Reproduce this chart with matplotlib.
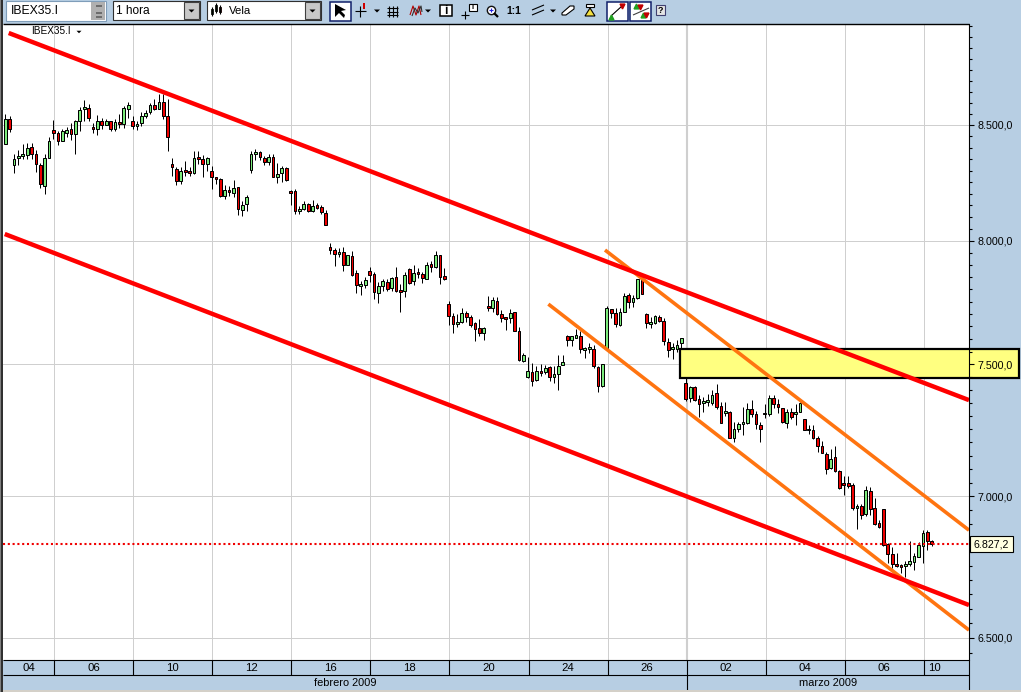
import numpy as np
import matplotlib
matplotlib.use('Agg')
import matplotlib.pyplot as plt
from matplotlib.patches import Rectangle, Polygon
from matplotlib.ticker import NullFormatter

plt.rcParams['font.family'] = ['Liberation Sans', 'DejaVu Sans']

# hourly candles
highs = [8548,8539,8370,8391,8417,8420,8420,8390,8333,8370,
         8449,8522,8473,8481,8493,8510,8522,8580,8612,8594,
         8507,8546,8529,8525,8516,8525,8551,8587,8601,8542,
         8517,8558,8568,8599,8616,8638,8638,8617,8355,8316,
         8316,8342,8316,8386,8386,8368,8360,8320,8273,8268,
         8236,8233,8259,8229,8168,8194,8386,8394,8386,8364,
         8373,8373,8333,8320,8316,8216,8220,8149,8168,8162,
         8172,8160,8153,8132,7991,7970,7970,7976,7942,7958,
         7881,7833,7849,7893,7873,7829,7841,7841,7849,7893,
         7821,7869,7889,7898,7889,7873,7914,7918,7960,7942,
         7889,7752,7703,7699,7723,7711,7695,7667,7679,7646,
         7772,7768,7768,7715,7687,7719,7707,7646,7545,7530,
         7507,7495,7503,7499,7495,7495,7537,7537,7614,7610,
         7638,7630,7569,7586,7578,7495,7503,7731,7719,7723,
         7723,7784,7784,7776,7841,7838,7703,7687,7695,7695,
         7683,7606,7583,7597,7606,7450,7415,7415,7381,7374,
         7385,7400,7423,7355,7355,7321,7279,7279,7336,7348,
         7362,7321,7279,7347,7381,7381,7366,7332,7328,7332,
         7347,7355,7290,7264,7264,7226,7207,7165,7177,7188,
         7097,7074,7074,7048,6971,6971,7037,7033,6992,6914,
         6953,6832,6818,6797,6758,6768,6839,6797,6836,6878,6878,6843]
lows = [8416,8471,8290,8323,8352,8352,8351,8293,8223,8199,
        8353,8438,8413,8427,8449,8435,8374,8475,8519,8516,
        8464,8455,8481,8499,8473,8473,8486,8486,8529,8481,
        8478,8494,8529,8551,8565,8570,8525,8384,8275,8236,
        8242,8275,8275,8284,8329,8271,8297,8219,8240,8188,
        8179,8192,8188,8110,8105,8127,8288,8345,8345,8325,
        8325,8273,8246,8251,8255,8153,8114,8114,8132,8123,
        8123,8136,8114,8066,7946,7896,7934,7876,7898,7855,
        7784,7776,7804,7829,7760,7744,7795,7792,7792,7788,
        7707,7768,7821,7817,7845,7825,7841,7869,7889,7821,
        7837,7655,7622,7646,7663,7667,7646,7594,7612,7598,
        7711,7707,7695,7667,7634,7663,7630,7513,7509,7446,
        7415,7434,7453,7461,7434,7427,7400,7499,7574,7574,
        7606,7545,7523,7545,7487,7393,7412,7565,7683,7646,
        7650,7707,7723,7727,7760,7780,7642,7642,7659,7667,
        7578,7528,7521,7550,7550,7359,7355,7359,7298,7317,
        7340,7343,7325,7275,7302,7215,7203,7241,7228,7271,
        7298,7252,7203,7294,7302,7332,7313,7275,7256,7290,
        7264,7317,7245,7230,7211,7165,7162,7082,7101,7089,
        7025,7003,7029,6949,6882,6917,6928,6931,6896,6885,
        6821,6761,6743,6747,6726,6711,6750,6736,6782,6761,6807,6821]
opens = [8416,8525,8323,8355,8364,8368,8403,8373,8325,8232,
         8353,8477,8464,8427,8465,8481,8458,8516,8573,8577,
         8490,8481,8520,8499,8516,8481,8512,8503,8573,8516,
         8494,8507,8542,8560,8590,8573,8603,8538,8329,8307,
         8255,8303,8299,8288,8360,8351,8329,8299,8273,8264,
         8192,8216,8201,8229,8132,8155,8303,8373,8381,8355,
         8338,8360,8273,8290,8312,8212,8212,8127,8136,8155,
         8127,8151,8142,8118,7974,7962,7946,7954,7900,7938,
         7865,7812,7817,7877,7861,7784,7812,7829,7804,7849,
         7796,7792,7885,7833,7869,7861,7841,7902,7892,7942,
         7853,7740,7691,7659,7667,7703,7687,7663,7642,7624,
         7731,7723,7752,7699,7687,7683,7707,7630,7513,7450,
         7469,7438,7472,7469,7491,7450,7461,7499,7610,7598,
         7606,7610,7557,7561,7561,7491,7415,7565,7719,7703,
         7655,7707,7776,7748,7764,7838,7699,7659,7663,7687,
         7671,7590,7561,7561,7585,7427,7370,7412,7366,7351,
         7355,7351,7389,7340,7313,7317,7218,7252,7271,7275,
         7328,7306,7264,7313,7306,7370,7347,7332,7275,7317,
         7306,7317,7290,7245,7248,7215,7188,7158,7105,7146,
         7093,7048,7048,7040,6956,6963,6935,7018,6956,6903,
         6953,6829,6793,6758,6754,6750,6758,6765,6782,6821,6871,6839]
closes = [8525,8481,8352,8364,8373,8399,8373,8329,8240,8353,
          8429,8465,8427,8473,8477,8458,8520,8568,8581,8533,
          8481,8520,8499,8516,8481,8512,8503,8577,8590,8494,
          8503,8538,8555,8590,8573,8603,8542,8446,8316,8255,
          8299,8293,8288,8355,8351,8329,8355,8273,8264,8192,
          8216,8206,8225,8136,8151,8186,8373,8381,8360,8338,
          8360,8273,8286,8312,8259,8203,8127,8136,8155,8127,
          8147,8140,8123,8066,7961,7946,7954,7900,7942,7859,
          7817,7821,7837,7857,7788,7812,7833,7803,7845,7795,
          7788,7857,7825,7865,7861,7845,7898,7893,7942,7849,
          7841,7691,7659,7667,7703,7687,7656,7638,7624,7642,
          7723,7756,7699,7683,7679,7703,7630,7517,7537,7472,
          7434,7472,7465,7487,7450,7461,7495,7509,7598,7610,
          7614,7561,7565,7569,7495,7415,7503,7723,7703,7659,
          7707,7772,7748,7764,7841,7780,7663,7667,7691,7671,
          7594,7557,7569,7578,7606,7365,7412,7362,7347,7359,
          7362,7381,7336,7275,7321,7218,7252,7271,7279,7328,
          7309,7268,7252,7306,7370,7347,7336,7279,7317,7298,
          7317,7351,7248,7252,7215,7188,7162,7101,7139,7093,
          7029,7040,7036,6956,6963,6931,7022,6953,6900,6889,
          6825,6793,6758,6750,6747,6758,6768,6786,6825,6868,6839,6827]

last_price = 6827.2

# trend lines: (candle index, price) at both ends
red_upper_x = [0.8, 219.5]
red_upper_y = [8919, 7361]
red_lower_x = [-0.1, 219.5]
red_lower_y = [8029, 6613]
orange_upper_x = [136.6, 219.5]
orange_upper_y = [7962, 6877]
orange_lower_x = [123.7, 219.5]
orange_lower_y = [7740, 6527]

# resistance zone
zone_x = [153.7, 230.9]
zone_y = [7447, 7560]

price_ticks = [6500, 7000, 7500, 8000, 8500]
price_labels = ['6.500,0', '7.000,0', '7.500,0', '8.000,0', '8.500,0']
minor_ticks = [p for p in range(6450, 8951, 50) if p not in price_ticks]

day_labels = ['04', '06', '10', '12', '16', '18', '20', '24', '26', '02', '04', '06', '10']
day_edges = [11.18 + 18 * k for k in range(12)]
month_labels = ['febrero 2009', 'marzo 2009']
month_edge = day_edges[8]

W, H = 1021, 692
PANEL = '#B7CEE3'
GRID = '#CFCFCF'
XLIM = (-0.5, 219.5)
YLIM = (6425.6, 8961)


def box(x0, y0, x1, y1):
    # figure position from pixel edges (y measured from the top)
    return [x0 / W, 1 - y1 / H, (x1 - x0) / W, (y1 - y0) / H]


fig = plt.figure(figsize=(W / 100, H / 100), dpi=100, facecolor=PANEL)

# price panel
ax = fig.add_axes(box(3, 24, 969, 660))
ax.set_yscale('log')
ax.set_xlim(*XLIM)
ax.set_ylim(*YLIM)
ax.set_axisbelow(True)
ax.set_xticks(day_edges)
ax.set_yticks(price_ticks)
ax.set_yticks([], minor=True)
ax.yaxis.set_major_formatter(NullFormatter())
ax.xaxis.set_major_formatter(NullFormatter())
ax.yaxis.set_minor_formatter(NullFormatter())
ax.tick_params(which='both', length=0)
ax.grid(True, color=GRID, lw=0.72)
ax.axvline(month_edge, color=GRID, lw=1.5, zorder=0.6)
for s in ax.spines.values():
    s.set_visible(False)

xs = np.arange(len(closes))
opens_a, closes_a = np.array(opens, float), np.array(closes, float)
up = closes_a > opens_a
body_bottom = np.minimum(opens_a, closes_a)
body_height = np.abs(closes_a - opens_a)
colors = ['#7CEB7C' if u else '#EE0000' for u in up]
ax.vlines(xs, lows, highs, colors='black', lw=0.72, zorder=2)
ax.bar(xs, body_height, bottom=body_bottom, width=0.62, color=colors,
       edgecolor='black', linewidth=0.72, zorder=2.1)

ax.axhline(last_price, color='#F00000', lw=1.5, ls=(0, (1, 1.3)), zorder=2.5)

ax.add_patch(Rectangle((zone_x[0], zone_y[0]), zone_x[1] - zone_x[0], zone_y[1] - zone_y[0],
                       facecolor='#FFFF80', edgecolor='black', lw=1.6, zorder=3, clip_on=False))

ax.plot(orange_upper_x, orange_upper_y, color='#FF7410', lw=2.6, zorder=4, solid_capstyle='butt')
ax.plot(orange_lower_x, orange_lower_y, color='#FF7410', lw=2.6, zorder=4, solid_capstyle='butt')
ax.plot(red_upper_x, red_upper_y, color='#FF0000', lw=3.2, zorder=4.1, solid_capstyle='butt')
ax.plot(red_lower_x, red_lower_y, color='#FF0000', lw=3.2, zorder=4.1, solid_capstyle='butt')

# right hand scale, on top of the yellow zone
axr = ax.twinx()
axr.set_yscale('log')
axr.set_ylim(*YLIM)
axr.set_yticks(price_ticks)
axr.set_yticklabels(price_labels)
axr.set_yticks(minor_ticks, minor=True)
axr.yaxis.set_minor_formatter(NullFormatter())
axr.tick_params(axis='y', which='major', length=3.8, width=0.8, pad=2.2, labelsize=7.7, color='black')
axr.tick_params(axis='y', which='minor', length=1.9, width=0.8, color='black')
for name, s in axr.spines.items():
    s.set_visible(name == 'right')
    s.set_linewidth(0.8)
axr.text(1.0233, last_price, '6.827,2', transform=axr.get_yaxis_transform(), fontsize=7.7,
         ha='center', va='center', clip_on=False,
         bbox=dict(boxstyle='square,pad=0.32', facecolor='#FFFFE1', edgecolor='black', lw=0.8))

# date strip
axb = fig.add_axes(box(3, 660, 969, 690), facecolor=PANEL)
axb.set_xlim(*XLIM)
axb.set_ylim(2, 0)
axb.set_xticks([])
axb.set_yticks([])
for name, s in axb.spines.items():
    s.set_visible(name == 'right')
    s.set_linewidth(0.8)
axb.hlines([0, 1], XLIM[0], XLIM[1], colors='black', lw=0.8, clip_on=False)
axb.vlines(day_edges, 0, 1, colors='black', lw=0.8)
axb.vlines(month_edge, 1, 2, colors='black', lw=0.8)
edges = [XLIM[0]] + day_edges + [XLIM[1]]
for i, lab in enumerate(day_labels[:-1]):
    axb.text((edges[i] + edges[i + 1]) / 2, 0.53, lab, ha='center', va='center', fontsize=8.2)
axb.text(edges[-2] + 1, 0.53, day_labels[-1], ha='left', va='center', fontsize=8.2)
axb.text((XLIM[0] + month_edge) / 2, 1.5, month_labels[0], ha='center', va='center', fontsize=7.9)
axb.text((month_edge + XLIM[1]) / 2, 1.5, month_labels[1], ha='center', va='center', fontsize=7.9)

# toolbar and window frame, in pixel coordinates
top = fig.add_axes([0, 0, 1, 1], zorder=10)
top.set_xlim(0, W)
top.set_ylim(H, 0)
top.axis('off')
top.patch.set_visible(False)


def rect(x0, y0, x1, y1, fc='white', ec='none', lw=0.8):
    top.add_patch(Rectangle((x0, y0), x1 - x0, y1 - y0, facecolor=fc, edgecolor=ec, lw=lw))


def seg(xv, yv, c='black', lw=0.8):
    top.plot(xv, yv, color=c, lw=lw, solid_capstyle='butt')


def down_arrow(x, y, s=3):
    top.add_patch(Polygon([(x - s, y - s / 2), (x + s, y - s / 2), (x, y + s / 2)], facecolor='black'))


rect(0, 690, W, H, fc='#D4D0C8')
rect(0, 0, 1, H, fc='#808080')
rect(1, 0, 3, H, fc='#303030')
seg([3, 969], [23.5, 23.5], lw=1.0)

# symbol box
rect(6, 1, 106, 21, fc='white', ec='#7F9DB9')
rect(91, 2, 105, 20, fc='#B0B0B0')
top.text(11, 11.5, 'IBEX35.I', fontsize=8.8, va='center')
for yy in [6, 13, 17]:
    seg([96, 102], [yy, yy], c='#606060', lw=1.2)

# period and chart type combos
rect(113, 1, 200, 20, fc='white', ec='#303030')
rect(184, 2, 199, 19, fc='#C8C8C8', ec='#404040')
down_arrow(191.5, 11)
top.text(116, 11.5, '1 hora', fontsize=8.6, va='center')
rect(207, 1, 321, 20, fc='white', ec='#303030')
rect(305, 2, 320, 19, fc='#C8C8C8', ec='#404040')
down_arrow(312.5, 11)
top.text(229, 11, 'Vela', fontsize=8.2, va='center')
for xx, y0, y1, c in [(212, 9, 14, '#90EE90'), (216, 5, 11, '#90EE90'), (220, 7, 12, '#E60000')]:
    seg([xx, xx], [y0 - 2, y1 + 2])
    rect(xx - 1, y0, xx + 1, y1, fc=c, ec='black', lw=0.6)

# tool buttons
rect(329.5, 1.5, 350.5, 21, fc='white', ec='#10206A', lw=1.1)
top.add_patch(Polygon([(335, 4), (335, 17), (339, 13), (344, 18), (345, 15), (341, 11), (346, 10)],
                      facecolor='black'))
seg([355, 366], [11, 11])
seg([360, 360], [6, 17])
rect(363, 3, 365, 9, fc='#D00000')
down_arrow(377, 11)
for v in [389, 393, 397]:
    seg([v, v], [6, 17])
for v in [8, 12, 15]:
    seg([387, 398], [v, v])
seg([410, 413, 416, 419, 421], [15, 6, 15, 6, 15], c='#B00000')
seg([412, 415, 418, 421, 422], [16, 8, 13, 6, 12], c='#303030')
down_arrow(428, 11)
rect(440, 5, 452, 16, fc='white', ec='black', lw=1.1)
top.text(446, 10.7, 'i', fontsize=8.5, fontweight='bold', ha='center', va='center')
seg([461, 469], [15, 15])
seg([465, 465], [11, 19])
rect(469, 4, 477, 11, fc='white', ec='black')
top.text(473, 7.6, 'i', fontsize=5.5, fontweight='bold', ha='center', va='center')
top.plot([491], [10], 'o', ms=6, mfc='white', mec='#101010', mew=1.0)
top.plot([491], [10], '+', ms=3, color='#2020E0', mew=0.8)
seg([494, 498], [13, 17], lw=1.6)
top.text(513.5, 10.5, '1:1', fontsize=7.4, fontweight='bold', ha='center', va='center')
seg([532, 544], [10, 5])
seg([532, 544], [15, 10])
down_arrow(553, 11)
top.add_patch(Polygon([(562, 13), (570, 6), (574, 6), (574, 9), (566, 15), (562, 15)],
                      facecolor='white', edgecolor='black', lw=0.8))
top.add_patch(Polygon([(585, 16), (590, 8), (595, 16)], facecolor='#F4E040', edgecolor='black', lw=0.8))
rect(586, 4, 594, 7, fc='white', ec='black')
rect(606.5, 1.5, 627.5, 21, fc='white', ec='#10206A', lw=1.1)
seg([611, 622], [16, 6], c='black')
top.plot([622], [5.5], 'v', ms=3.5, color='#C00000')
top.plot([611], [16.5], '^', ms=3.5, color='#20A020')
rect(630, 1.5, 651, 21, fc='white', ec='#10206A', lw=1.1)
top.plot([636, 643], [6, 15], '^', ms=3.5, color='#20A020')
top.plot([640, 646], [7, 15], 'v', ms=3.5, color='#C00000')
seg([633, 649], [15, 8], c='#404040')
rect(656, 5, 665, 15, fc='#E4E4E4', ec='#404070')
top.text(660.5, 10.3, '?', fontsize=6.5, fontweight='bold', ha='center', va='center')

# series name in the corner of the price panel
top.text(31, 31.5, 'IBEX35.I', fontsize=7.2, va='center')
down_arrow(79, 32, s=2.5)

fig.savefig('out.png', dpi=100, facecolor=fig.get_facecolor())
